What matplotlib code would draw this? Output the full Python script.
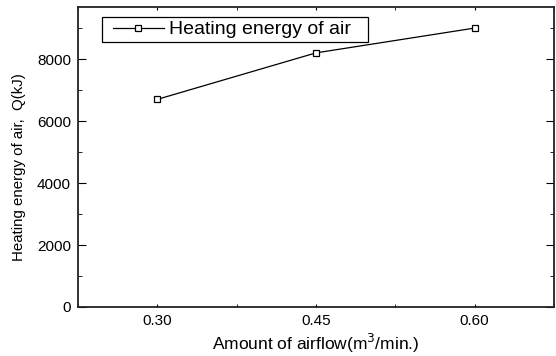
import matplotlib.pyplot as plt
from matplotlib.patches import Rectangle
from matplotlib.ticker import MultipleLocator

plt.rcParams['font.family'] = ['Liberation Sans', 'DejaVu Sans']

airflow = [0.30, 0.45, 0.60]
energy = [6700, 8200, 9000]
xticks = [0.30, 0.45, 0.60]
xticklabels = ['0.30', '0.45', '0.60']
yticks = [0, 2000, 4000, 6000, 8000]

fig = plt.figure(figsize=(5.56, 3.56), dpi=100)
ax = fig.add_axes([78/556, 1 - 307/356, 476/556, 300/356])

ax.plot(airflow, energy, color='black', lw=0.9, marker='s', ms=4.2,
        mfc='white', mec='black', mew=0.9, label='Heating energy of air')

ax.set_xlim(0.225, 0.675)
ax.set_ylim(0, 9680)
ax.set_xticks(xticks)
ax.set_xticklabels(xticklabels)
ax.set_yticks(yticks)
ax.xaxis.set_minor_locator(MultipleLocator(0.075))
ax.yaxis.set_minor_locator(MultipleLocator(1000))

ax.tick_params(which='both', direction='in', top=True, right=True, labelsize=11)
ax.tick_params(axis='x', which='both', length=2, pad=5)
ax.tick_params(axis='y', which='major', length=5.5, pad=5)
ax.tick_params(axis='y', which='minor', length=3)

for s in ax.spines.values():
    s.set_linewidth(1.3)
    s.set_color('#222222')

ax.set_xlabel('Amount of airflow(m$^3$/min.)', fontsize=12.5, labelpad=3)
ax.set_ylabel('Heating energy of air,  Q(kJ)', fontsize=10.8)
ax.yaxis.set_label_coords(-0.11, 0.467)

# legend box drawn as in the original (wide right margin)
ax.add_patch(Rectangle((24/476, 265/300), 266/476, 25/300, transform=ax.transAxes,
                       fill=False, edgecolor='black', lw=0.9, zorder=5))
ax.legend(loc='center left', bbox_to_anchor=(35/476, 277.5/300), fontsize=14,
          frameon=False, handlelength=2.6, handletextpad=0.3, borderpad=0,
          borderaxespad=0, markerscale=0.9)

fig.savefig('out.png', dpi=100)
